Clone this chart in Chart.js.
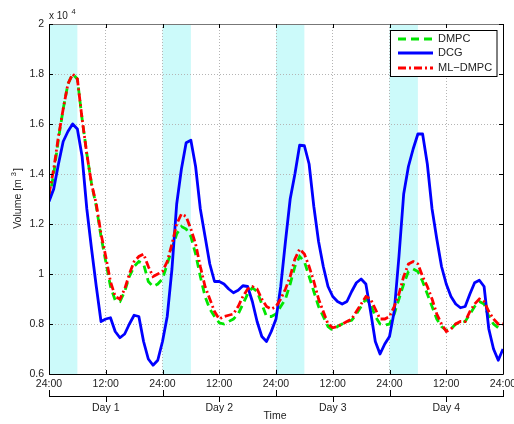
<!DOCTYPE html>
<html>
<head>
<meta charset="utf-8">
<script src="https://cdn.jsdelivr.net/npm/chart.js@4.4.1/dist/chart.umd.min.js"></script>
<style>
  html, body { margin: 0; padding: 0; background: #fff; }
  canvas { display: block; }
</style>
</head>
<body>
<canvas id="volumeChart" width="514" height="424"></canvas>
<script>
// hourly samples over four days (0..96 h)
const hours = Array.from({ length: 97 }, (_, i) => i);

// volumes in units of 10^4 m^3
const dmpc = [
  1.30, 1.40, 1.54, 1.66, 1.76, 1.80, 1.78, 1.62, 1.48, 1.36, 1.27, 1.15,
  1.05, 0.95, 0.895, 0.89, 0.93, 0.99, 1.03, 1.05, 1.04, 0.97, 0.95, 0.96,
  0.98, 1.04, 1.10, 1.16, 1.19, 1.18, 1.15, 1.08, 0.99, 0.91, 0.86, 0.83,
  0.805, 0.80, 0.81, 0.82, 0.84, 0.88, 0.92, 0.945, 0.93, 0.88, 0.83, 0.83,
  0.84, 0.87, 0.90, 0.96, 1.03, 1.07, 1.05, 0.99, 0.93, 0.87, 0.83, 0.79,
  0.775, 0.79, 0.80, 0.81, 0.815, 0.84, 0.87, 0.90, 0.88, 0.83, 0.80, 0.795,
  0.80, 0.84, 0.90, 0.96, 1.01, 1.02, 1.01, 0.97, 0.92, 0.87, 0.82, 0.79,
  0.775, 0.78, 0.80, 0.805, 0.81, 0.84, 0.87, 0.89, 0.88, 0.83, 0.80, 0.785,
  0.785
];
const dcg = [
  1.29, 1.34, 1.44, 1.53, 1.57, 1.60, 1.58, 1.47, 1.26, 1.10, 0.95, 0.81,
  0.82, 0.825, 0.77, 0.745, 0.76, 0.80, 0.835, 0.83, 0.73, 0.66, 0.635, 0.655,
  0.73, 0.83, 1.02, 1.28, 1.42, 1.525, 1.535, 1.43, 1.26, 1.15, 1.04, 0.97,
  0.97, 0.96, 0.94, 0.925, 0.935, 0.953, 0.95, 0.89, 0.81, 0.75, 0.73, 0.77,
  0.82, 0.95, 1.13, 1.30, 1.40, 1.515, 1.513, 1.44, 1.27, 1.13, 1.03, 0.95,
  0.91, 0.89, 0.88, 0.89, 0.93, 0.965, 0.98, 0.96, 0.85, 0.73, 0.68, 0.72,
  0.75, 0.85, 1.07, 1.32, 1.43, 1.50, 1.56, 1.56, 1.44, 1.26, 1.14, 1.03,
  0.96, 0.91, 0.88, 0.865, 0.87, 0.92, 0.965, 0.975, 0.95, 0.78, 0.70, 0.655,
  0.70
];
const mlDmpc = [
  1.32, 1.42, 1.55, 1.66, 1.76, 1.80, 1.78, 1.62, 1.48, 1.36, 1.28, 1.16,
  1.07, 0.97, 0.91, 0.90, 0.94, 1.00, 1.05, 1.07, 1.08, 1.03, 0.99, 1.00,
  1.01, 1.05, 1.12, 1.20, 1.24, 1.23, 1.18, 1.12, 1.03, 0.95, 0.90, 0.85,
  0.82, 0.83, 0.835, 0.84, 0.87, 0.91, 0.94, 0.95, 0.94, 0.90, 0.87, 0.86,
  0.87, 0.90, 0.94, 0.99, 1.06, 1.10, 1.08, 1.03, 0.97, 0.90, 0.85, 0.80,
  0.785, 0.79, 0.80, 0.81, 0.82, 0.85, 0.88, 0.91, 0.90, 0.86, 0.82, 0.82,
  0.83, 0.87, 0.92, 0.99, 1.04, 1.05, 1.04, 0.99, 0.95, 0.90, 0.84, 0.80,
  0.77, 0.78, 0.80, 0.81, 0.81, 0.85, 0.88, 0.90, 0.89, 0.85, 0.82, 0.80,
  0.80
];

const xTickLabels = ['24:00', '12:00', '24:00', '12:00', '24:00', '12:00', '24:00', '12:00', '24:00'];
const dayLabels = ['Day 1', 'Day 2', 'Day 3', 'Day 4'];
const peakBands = [[0, 6], [24, 30], [48, 54], [72, 78]];
const seriesNames = ['DMPC', 'DCG', 'ML\u2212DMPC'];

const FONT = '"Liberation Sans", Arial, sans-serif';
const TEXT = '#222';

function toPoints(values) {
  return values.map((v, i) => ({ x: hours[i], y: v }));
}

// cyan bands, box, inner ticks, day axis, titles and legend
const decorations = {
  id: 'decorations',
  beforeDraw(chart) {
    const { ctx, chartArea: a, scales: { x } } = chart;
    ctx.save();
    ctx.fillStyle = 'rgb(204,250,250)';
    peakBands.forEach(([s, e]) => {
      const x0 = x.getPixelForValue(s);
      const x1 = x.getPixelForValue(e);
      ctx.fillRect(x0, a.top, x1 - x0, a.bottom - a.top);
    });
    ctx.restore();
  },
  afterDraw(chart) {
    const { ctx, chartArea: a, scales: { x, y } } = chart;
    ctx.save();

    // axes box
    ctx.lineWidth = 1;
    ctx.strokeStyle = '#777';
    ctx.beginPath();
    ctx.moveTo(a.left, a.top + 0.5);
    ctx.lineTo(a.right, a.top + 0.5);
    ctx.stroke();
    ctx.strokeStyle = '#000';
    ctx.beginPath();
    ctx.moveTo(a.left + 0.5, a.top);
    ctx.lineTo(a.left + 0.5, a.bottom + 0.5);
    ctx.lineTo(a.right + 0.5, a.bottom + 0.5);
    ctx.lineTo(a.right + 0.5, a.top);
    ctx.stroke();

    // inward tick marks
    ctx.beginPath();
    y.ticks.forEach(t => {
      const py = Math.round(y.getPixelForValue(t.value)) + 0.5;
      ctx.moveTo(a.left, py); ctx.lineTo(a.left + 4, py);
      ctx.moveTo(a.right, py); ctx.lineTo(a.right - 4, py);
    });
    x.ticks.forEach(t => {
      const px = Math.round(x.getPixelForValue(t.value)) + 0.5;
      ctx.moveTo(px, a.bottom); ctx.lineTo(px, a.bottom - 4);
      ctx.moveTo(px, a.top); ctx.lineTo(px, a.top + 4);
    });
    ctx.stroke();

    // time-of-day labels
    ctx.fillStyle = TEXT;
    ctx.font = '10.5px ' + FONT;
    ctx.textAlign = 'center';
    ctx.textBaseline = 'middle';
    xTickLabels.forEach((lbl, i) => {
      ctx.fillText(lbl, x.getPixelForValue(i * 12), 384);
    });

    // day axis
    const dy = 396.5;
    ctx.strokeStyle = '#000';
    ctx.beginPath();
    ctx.moveTo(a.left, dy);
    ctx.lineTo(a.right + 1, dy);
    for (let d = 0; d <= dayLabels.length; d++) {
      const px = Math.round(x.getPixelForValue(d * 24)) + 0.5;
      ctx.moveTo(px, dy); ctx.lineTo(px, 390);
    }
    dayLabels.forEach((lbl, i) => {
      const px = Math.round(x.getPixelForValue(i * 24 + 12)) + 0.5;
      ctx.moveTo(px, dy); ctx.lineTo(px, 402);
    });
    ctx.stroke();
    dayLabels.forEach((lbl, i) => {
      ctx.fillText(lbl, x.getPixelForValue(i * 24 + 12), 408);
    });
    ctx.fillText('Time', 275, 416.5);

    // exponent label
    ctx.textAlign = 'left';
    ctx.textBaseline = 'alphabetic';
    ctx.font = '10px ' + FONT;
    ctx.fillText('x 10', 49, 19);
    ctx.font = '7.5px ' + FONT;
    ctx.fillText('4', 71.5, 14);

    // y axis title with superscript
    ctx.save();
    ctx.translate(21, 199);
    ctx.rotate(-Math.PI / 2);
    const partA = 'Volume [m ';
    const partC = ']';
    ctx.font = '10.5px ' + FONT;
    const wA = ctx.measureText(partA).width;
    const wC = ctx.measureText(partC).width;
    ctx.font = '7.5px ' + FONT;
    const wB = ctx.measureText('3').width;
    const start = -(wA + wB + wC) / 2;
    ctx.font = '10.5px ' + FONT;
    ctx.fillText(partA, start, 0);
    ctx.font = '7.5px ' + FONT;
    ctx.fillText('3', start + wA, -5);
    ctx.font = '10.5px ' + FONT;
    ctx.fillText(partC, start + wA + wB + 1, 0);
    ctx.restore();

    // legend
    const lx = 390.5, ly = 30.5, lw = 106.5, lh = 46;
    ctx.fillStyle = '#fff';
    ctx.fillRect(lx, ly, lw, lh);
    ctx.lineWidth = 1;
    ctx.strokeStyle = '#000';
    ctx.strokeRect(lx, ly, lw, lh);
    const rows = [39, 53, 68];
    chart.data.datasets.forEach((ds, i) => {
      ctx.save();
      ctx.strokeStyle = ds.borderColor;
      ctx.lineWidth = ds.borderWidth;
      ctx.setLineDash(ds.borderDash || []);
      ctx.beginPath();
      ctx.moveTo(398, rows[i]);
      ctx.lineTo(433, rows[i]);
      ctx.stroke();
      ctx.restore();
      ctx.fillStyle = TEXT;
      ctx.font = '11px ' + FONT;
      ctx.textBaseline = 'middle';
      ctx.fillText(seriesNames[i], 438, rows[i]);
    });

    ctx.restore();
  }
};

new Chart(document.getElementById('volumeChart'), {
  type: 'line',
  data: {
    datasets: [
      {
        label: seriesNames[0],
        data: toPoints(dmpc),
        borderColor: '#00e600',
        borderWidth: 2.8,
        borderDash: [8, 5],
        pointRadius: 0,
        tension: 0,
        order: 2
      },
      {
        label: seriesNames[1],
        data: toPoints(dcg),
        borderColor: '#0000ff',
        borderWidth: 2.8,
        borderJoinStyle: 'round',
        pointRadius: 0,
        tension: 0,
        order: 1
      },
      {
        label: seriesNames[2],
        data: toPoints(mlDmpc),
        borderColor: '#ff0000',
        borderWidth: 2.8,
        borderDash: [8, 3, 2, 3],
        pointRadius: 0,
        tension: 0,
        order: 0
      }
    ]
  },
  options: {
    responsive: false,
    animation: false,
    devicePixelRatio: 1,
    layout: { padding: { left: 0, right: 11, top: 24, bottom: 0 } },
    plugins: {
      legend: { display: false },
      tooltip: { enabled: false }
    },
    scales: {
      x: {
        type: 'linear',
        min: 0,
        max: 96,
        ticks: { stepSize: 12, display: false },
        grid: { color: '#b4b4b4', lineWidth: 1, drawTicks: false },
        border: { display: false, dash: [1, 2] },
        afterFit: scale => { scale.height = 50; }
      },
      y: {
        min: 0.6,
        max: 2,
        ticks: {
          stepSize: 0.2,
          padding: 5,
          color: TEXT,
          font: { family: FONT, size: 10.5 },
          callback: v => String(+v.toFixed(1))
        },
        grid: { color: '#b4b4b4', lineWidth: 1, drawTicks: false },
        border: { display: false, dash: [1, 2] },
        afterFit: scale => { scale.width = 49; }
      }
    }
  },
  plugins: [decorations]
});
</script>
</body>
</html>
